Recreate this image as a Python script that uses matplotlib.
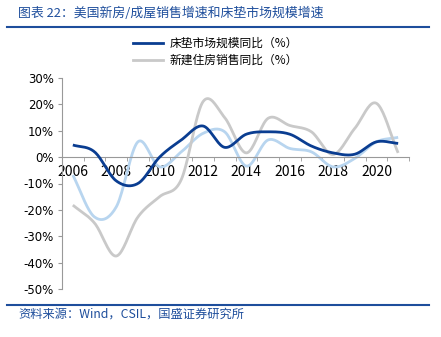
import numpy as np
import matplotlib
matplotlib.use("Agg")
import matplotlib.pyplot as plt
from matplotlib.lines import Line2D

plt.rcParams['font.family'] = ['Noto Sans CJK SC', 'DejaVu Sans']

years = list(range(2006, 2022))
mattress = [4.6, 2.0, -9.0, -10.0, 0.0, 6.5, 11.8, 3.7, 8.7, 9.6, 8.7, 4.2, 1.6, 1.1, 5.8, 5.2]
new_home = [-18.2, -25.0, -37.5, -22.7, -15.0, -8.5, 21.0, 15.0, 1.6, 14.7, 12.0, 9.6, 1.0, 10.9, 20.4, 1.6]
existing_home = [-6.8, -22.7, -18.9, 5.8, -3.7, 2.0, 9.0, 9.6, -3.4, 6.5, 3.3, 2.0, -3.7, -0.5, 5.8, 7.5]
legend_labels = ['床垫市场规模同比（%）', '新建住房销售同比（%）']
title = '图表 22：美国新房/成屋销售增速和床垫市场规模增速'
source = '资料来源：Wind，CSIL，国盛证券研究所'

DARK = '#0A3D91'
LIGHT = '#B8D5EF'
GREY = '#C9C9C9'
TXT_BLUE = '#1E4E9C'


def smooth(xs, ys, n=20):
    """Catmull-Rom style curve drawn through the data points (Excel 'smoothed line')."""
    xs = np.asarray(xs, float)
    ys = np.asarray(ys, float)
    px = np.concatenate([[2 * xs[0] - xs[1]], xs, [2 * xs[-1] - xs[-2]]])
    py = np.concatenate([[2 * ys[0] - ys[1]], ys, [2 * ys[-1] - ys[-2]]])
    ox, oy = [], []
    t = np.linspace(0, 1, n, endpoint=False)
    for i in range(1, len(px) - 2):
        p0, p1, p2, p3 = (np.array([px[j], py[j]]) for j in (i - 1, i, i + 1, i + 2))
        c1 = p1 + (p2 - p0) / 6.0
        c2 = p2 - (p3 - p1) / 6.0
        b = ((1 - t) ** 3)[:, None] * p1 + (3 * (1 - t) ** 2 * t)[:, None] * c1 \
            + (3 * (1 - t) * t ** 2)[:, None] * c2 + (t ** 3)[:, None] * p2
        ox.extend(b[:, 0]); oy.extend(b[:, 1])
    ox.append(xs[-1]); oy.append(ys[-1])
    return np.array(ox), np.array(oy)


fig = plt.figure(figsize=(4.41, 3.37), dpi=100)
ax = fig.add_axes([62 / 441, 1 - 289 / 337, (409 - 62) / 441, (289 - 78) / 337])

idx = np.arange(len(years))
for data, col, z in [(existing_home, LIGHT, 2), (new_home, GREY, 3), (mattress, DARK, 4)]:
    sx, sy = smooth(idx, data)
    ax.plot(sx, sy, color=col, lw=2.0, zorder=z, solid_capstyle='butt')

ax.set_xlim(-0.5, len(years) - 0.5)
ax.set_ylim(-50, 30)
ax.set_yticks(np.arange(-50, 31, 10))
ax.set_yticklabels([f'{v}%' for v in range(-50, 31, 10)], family='DejaVu Sans', fontsize=8.5)

ax.set_xticks(idx[::2])
ax.set_xticklabels([str(y) for y in years[::2]], family='DejaVu Sans', fontsize=8.5)
ax.set_xticks(np.arange(-0.5, len(years), 1), minor=True)
ax.tick_params(axis='x', which='major', length=0, pad=6)
ax.tick_params(axis='x', which='minor', length=3, direction='out', color='#999999')
ax.tick_params(axis='y', length=3, direction='out', color='#999999', pad=3)

for s in ['top', 'right']:
    ax.spines[s].set_visible(False)
ax.spines['bottom'].set_position(('data', 0))
ax.spines['bottom'].set_color('#999999')
ax.spines['left'].set_color('#999999')
ax.patch.set_visible(False)

handles = [Line2D([], [], color=DARK, lw=2.0), Line2D([], [], color=GREY, lw=2.0)]
fig.legend(handles, legend_labels, loc='center', bbox_to_anchor=(215 / 441, 1 - 52 / 337),
           frameon=False, fontsize=8.5, handlelength=2.6, handletextpad=0.5, labelspacing=0.35)

fig.text(18 / 441, 1 - 13 / 337, title, color=TXT_BLUE, fontsize=9.3, style='italic',
         va='center', ha='left')
fig.add_artist(Line2D([7 / 441, 429 / 441], [1 - 27 / 337] * 2, color=TXT_BLUE, lw=1.5))
fig.add_artist(Line2D([7 / 441, 429 / 441], [1 - 305 / 337] * 2, color=TXT_BLUE, lw=1.5))
fig.text(18 / 441, 1 - 314 / 337, source, color=TXT_BLUE, fontsize=8.8, style='italic',
         va='center', ha='left')

fig.savefig('out.png', dpi=100)
